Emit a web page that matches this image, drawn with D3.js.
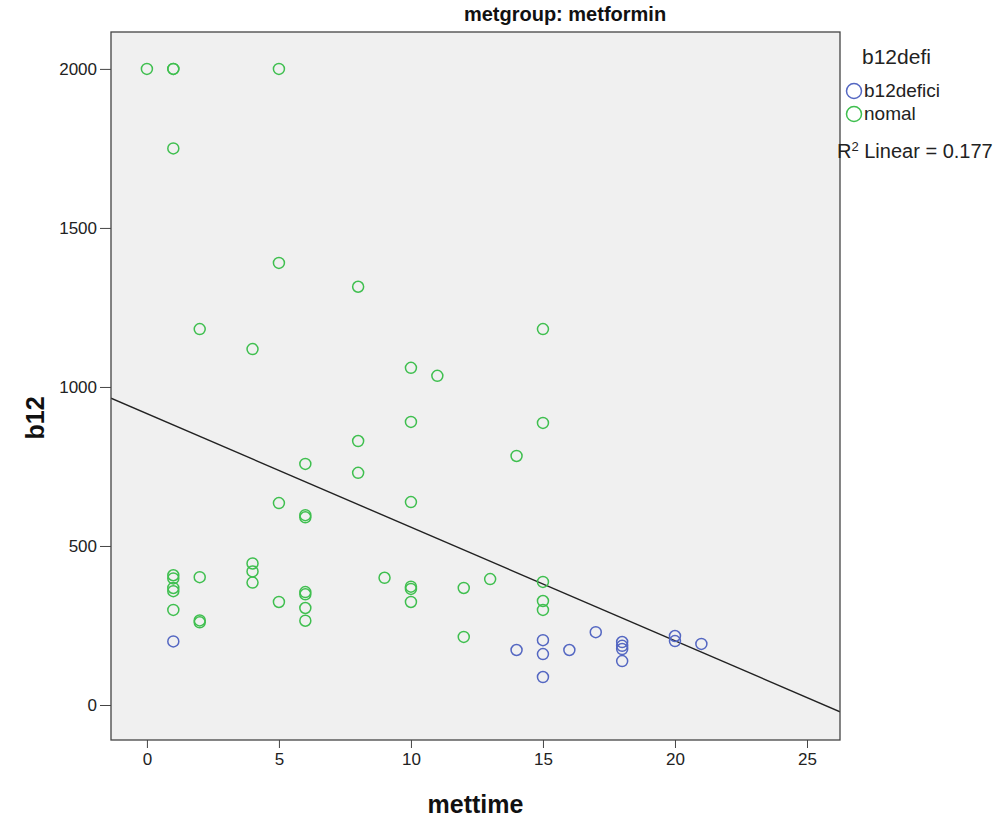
<!DOCTYPE html>
<meta charset="utf-8">
<title>metgroup: metformin</title>
<style>
  body { margin: 0; background: #fff; font-family: "Liberation Sans", Arial, sans-serif; }
  .axis text { font-size: 17px; fill: #222; font-family: "Liberation Sans", Arial, sans-serif; }
  .axis path, .axis line { stroke: #444; }
  .lbl { font-weight: bold; font-size: 25px; fill: #111; }
  .legend text { font-size: 19px; fill: #222; }
</style>
<body>
<script src="https://d3js.org/d3.v7.min.js"></script>
<script>
// mettime / b12 pairs for each b12defi group
var nomalX = [0,1,1,5,1,5,8,2,4,15,10,11,10,15,14,8,6,8,5,10,6,6,4,4,4,1,1,1,1,1,2,2,2,5,6,6,6,6,9,10,10,10,12,12,13,15,15,15];
var nomalY = [2000,2000,2000,2000,1750,1390,1315,1182,1119,1182,1060,1035,890,887,783,830,758,730,635,638,597,590,445,420,385,408,398,368,358,299,402,266,260,324,355,348,305,265,400,372,365,324,368,214,396,387,327,299];
var defX = [1,14,15,15,15,16,17,18,18,18,18,20,20,21];
var defY = [200,173,204,160,88,173,229,198,186,176,138,217,201,192];

var xTicks = [0,5,10,15,20,25];
var yTicks = [0,500,1000,1500,2000];

// fit line
var fitIntercept = 916, fitSlope = -35.7;
var groups = ["b12defici", "nomal"];
var colors = {"b12defici": "#5467c2", "nomal": "#3fbf4f"};

var W = 1000, H = 821;
var margin = {top: 32, right: 160, bottom: 81, left: 111};
var width = W - margin.left - margin.right,   // 729
    height = H - margin.top - margin.bottom;  // 708

var svg = d3.select("body").append("svg")
    .attr("width", W).attr("height", H);

var x = d3.scaleLinear().domain([-1.36, 26.25]).range([0, width]);
var y = d3.scaleLinear().domain([-110, 2116]).range([height, 0]);

var g = svg.append("g").attr("transform", "translate(" + margin.left + "," + margin.top + ")");

g.append("rect")
    .attr("width", width).attr("height", height)
    .attr("fill", "#f0f0f0");

var points = [];
nomalX.forEach(function(v, i) { points.push({x: v, y: nomalY[i], grp: "nomal"}); });
defX.forEach(function(v, i) { points.push({x: v, y: defY[i], grp: "b12defici"}); });

g.append("defs").append("clipPath").attr("id", "clip")
  .append("rect").attr("width", width).attr("height", height);

g.append("line")
    .attr("clip-path", "url(#clip)")
    .attr("x1", x(x.domain()[0])).attr("y1", y(fitIntercept + fitSlope * x.domain()[0]))
    .attr("x2", x(x.domain()[1])).attr("y2", y(fitIntercept + fitSlope * x.domain()[1]))
    .attr("stroke", "#222").attr("stroke-width", 1.4);

g.selectAll("circle.pt")
    .data(points)
  .enter().append("circle")
    .attr("class", "pt")
    .attr("cx", function(d) { return x(d.x); })
    .attr("cy", function(d) { return y(d.y); })
    .attr("r", 5.5)
    .attr("fill", "none")
    .attr("stroke", function(d) { return colors[d.grp]; })
    .attr("stroke-width", 1.5);

g.append("rect")
    .attr("width", width).attr("height", height)
    .attr("fill", "none").attr("stroke", "#444").attr("stroke-width", 1.3);

g.append("g")
    .attr("class", "x axis")
    .attr("transform", "translate(0," + height + ")")
    .call(d3.axisBottom(x).tickValues(xTicks).tickSize(8).tickPadding(5).tickSizeOuter(0))
    .call(function(s) { s.select(".domain").remove(); });

g.append("g")
    .attr("class", "y axis")
    .call(d3.axisLeft(y).tickValues(yTicks).tickFormat(d3.format("d")).tickSize(11).tickPadding(3).tickSizeOuter(0))
    .call(function(s) { s.select(".domain").remove(); });

svg.append("text")
    .attr("x", 565).attr("y", 21)
    .attr("text-anchor", "middle")
    .style("font-weight", "bold").style("font-size", "20px").style("fill", "#111")
    .text("metgroup: metformin");

svg.append("text")
    .attr("class", "lbl")
    .attr("x", margin.left + width / 2).attr("y", 813)
    .attr("text-anchor", "middle")
    .text("mettime");

svg.append("text")
    .attr("class", "lbl")
    .attr("transform", "translate(44," + (margin.top + height / 2 + 32) + ") rotate(-90)")
    .attr("text-anchor", "middle")
    .text("b12");

var leg = svg.append("g").attr("class", "legend");
leg.append("text").attr("x", 862).attr("y", 64).style("font-size", "21px").text("b12defi");
groups.forEach(function(k, i) {
  leg.append("circle")
      .attr("cx", 854).attr("cy", 91 + i * 23).attr("r", 7.5)
      .attr("fill", "none").attr("stroke", colors[k]).attr("stroke-width", 1.5);
  leg.append("text").attr("x", 864).attr("y", 97 + i * 23).text(k);
});
var r2 = leg.append("text").attr("x", 837).attr("y", 158).style("font-size", "20px");
r2.append("tspan").text("R");
r2.append("tspan").attr("dy", -7).style("font-size", "13px").text("2");
r2.append("tspan").attr("dy", 7).text(" Linear = 0.177");
</script>
</body>
